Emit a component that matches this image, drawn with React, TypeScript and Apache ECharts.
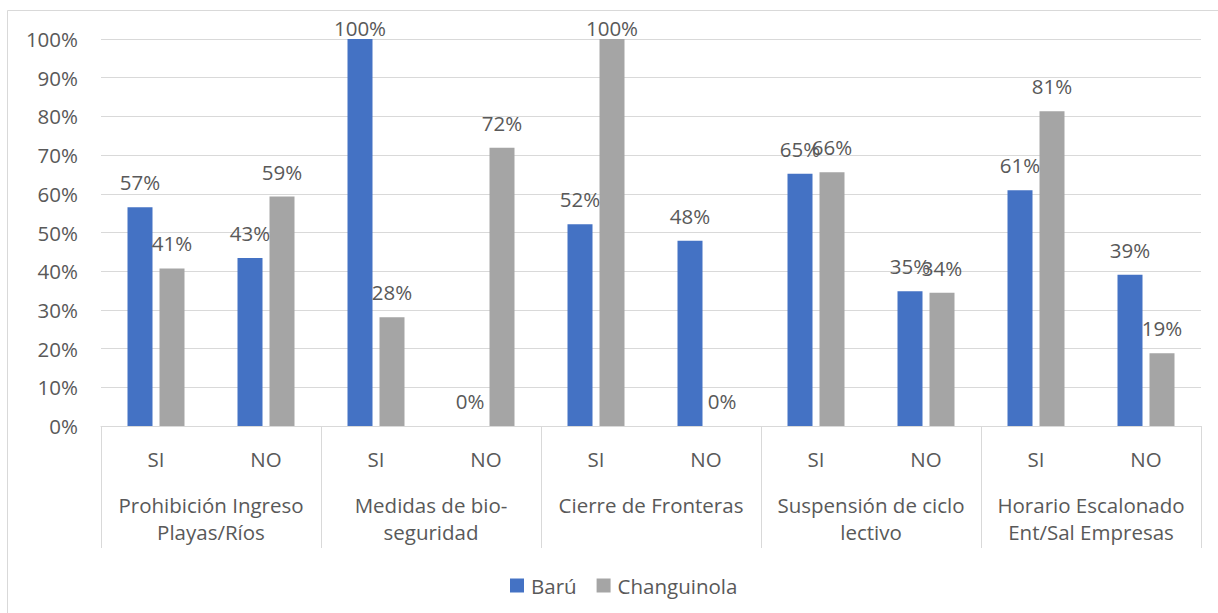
import React, { useEffect, useRef } from "react";
import * as echarts from "echarts";

const subCategories = ["SI", "NO", "SI", "NO", "SI", "NO", "SI", "NO", "SI", "NO"];
const groupLabels = [
  "Prohibición Ingreso\nPlayas/Ríos",
  "Medidas de bio-\nseguridad",
  "Cierre de Fronteras",
  "Suspensión de ciclo\nlectivo",
  "Horario Escalonado\nEnt/Sal Empresas",
];
const baruValues = [56.5, 43.4, 100, 0, 52.1, 47.9, 65.2, 34.8, 60.9, 39.1];
const changuinolaValues = [40.7, 59.3, 28.1, 71.9, 100, 0, 65.6, 34.4, 81.3, 18.8];
const seriesNames = ["Barú", "Changuinola"];

const FONT = "'Open Sans', sans-serif";
const TEXT = "#595959";
const LINE = "#D9D9D9";
const FS = 20.5;

function toItems(vals: number[]) {
  return vals.map((v) =>
    v >= 100 ? { value: v, label: { distance: 1 } } : { value: v }
  );
}

export default function App() {
  const ref = useRef<HTMLDivElement>(null);
  useEffect(() => {
    if (!ref.current) return;
    const chart = echarts.init(ref.current, undefined, { renderer: "svg" });
    const labelCfg = {
      show: true,
      position: "top",
      distance: 14.5,
      fontFamily: FONT,
      fontSize: FS,
      color: TEXT,
      formatter: (p: any) => Math.round(p.value) + "%",
    };
    chart.setOption({
      animation: false,
      textStyle: { fontFamily: FONT },
      graphic: [
        {
          type: "rect",
          shape: { x: 7.5, y: 10.5, width: 1400, height: 800 },
          style: { fill: "none", stroke: LINE, lineWidth: 1 },
          silent: true,
        },
      ],
      grid: { left: 101, right: 17, top: 39, bottom: 187, containLabel: false },
      legend: {
        left: 505,
        top: 570,
        itemWidth: 14,
        itemHeight: 14,
        itemGap: 20,
        icon: "rect",
        textStyle: { fontFamily: FONT, fontSize: FS, color: TEXT, padding: [0, 0, 0, 2] },
        data: seriesNames,
      },
      xAxis: [
        {
          type: "category",
          data: subCategories,
          position: "bottom",
          axisLine: { show: true, lineStyle: { color: LINE, width: 1 } },
          axisTick: { show: false },
          axisLabel: { margin: 22, fontFamily: FONT, fontSize: FS, color: TEXT, interval: 0 },
        },
        {
          type: "category",
          data: groupLabels,
          position: "bottom",
          axisLine: { show: false },
          axisTick: { show: true, length: 122, interval: 0, lineStyle: { color: LINE, width: 1 } },
          axisLabel: {
            margin: 65,
            fontFamily: FONT,
            fontSize: FS,
            lineHeight: 27,
            color: TEXT,
            interval: 0,
          },
        },
      ],
      yAxis: {
        type: "value",
        min: 0,
        max: 100,
        interval: 10,
        axisLine: { show: false },
        axisTick: { show: false },
        splitLine: { lineStyle: { color: LINE, width: 1 } },
        axisLabel: { margin: 23, fontFamily: FONT, fontSize: FS, color: TEXT, formatter: "{value}%" },
      },
      series: [
        {
          name: seriesNames[0],
          type: "bar",
          xAxisIndex: 0,
          data: toItems(baruValues),
          barWidth: 25,
          barGap: "28%",
          itemStyle: { color: "#4472C4" },
          label: labelCfg,
        },
        {
          name: seriesNames[1],
          type: "bar",
          xAxisIndex: 0,
          data: toItems(changuinolaValues),
          barWidth: 25,
          barGap: "28%",
          itemStyle: { color: "#A5A5A5" },
          label: labelCfg,
        },
      ],
    });
    return () => chart.dispose();
  }, []);
  return (
    <div
      ref={ref}
      style={{ position: "fixed", left: 0, top: 0, width: 1218, height: 613, background: "#fff" }}
    />
  );
}
